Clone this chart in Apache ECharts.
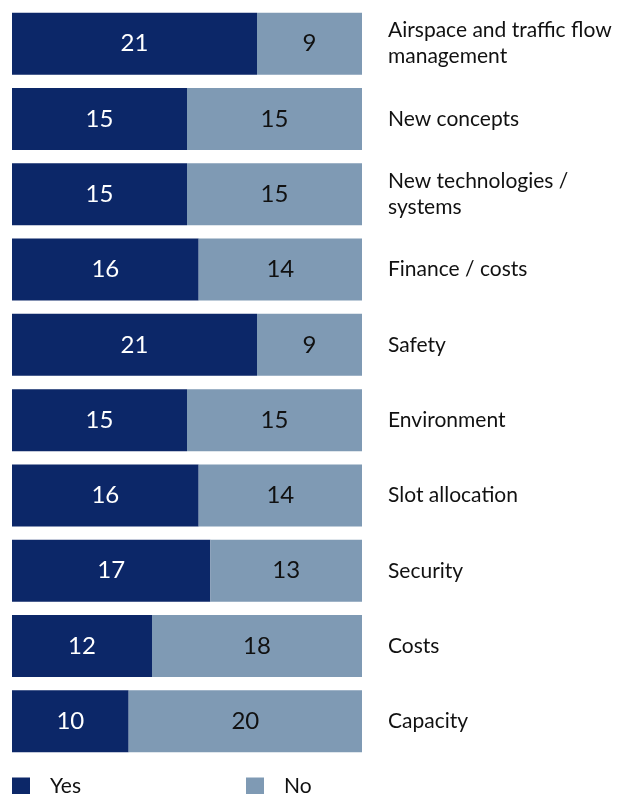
<!DOCTYPE html>
<html>
<head>
<meta charset="utf-8">
<script src="https://cdn.jsdelivr.net/npm/echarts@6/dist/echarts.min.js"></script>
<style>
  html, body { margin: 0; padding: 0; background: #fff; }
  #chart { width: 644px; height: 794px; }
</style>
</head>
<body>
<div id="chart"></div>
<script>
var categories = ['Airspace and traffic flow\nmanagement', 'New concepts', 'New technologies /\nsystems',
  'Finance / costs', 'Safety', 'Environment', 'Slot allocation', 'Security', 'Costs', 'Capacity'];
var yesValues = [21, 15, 15, 16, 21, 15, 16, 17, 12, 10];
var noValues = [9, 15, 15, 14, 9, 15, 14, 13, 18, 20];

var fontFam = 'Lato, "Open Sans", sans-serif';
var chart = echarts.init(document.getElementById('chart'));
var option = {
  animation: false,
  textStyle: { fontFamily: fontFam },
  grid: { left: 12, width: 350, top: 6, height: 753 },
  legend: [{
    data: ['Yes'], left: 12, top: 776, itemWidth: 18, itemHeight: 18, padding: 0,
    icon: 'rect', textStyle: { fontSize: 21, color: '#111', padding: [0, 0, 0, 15], fontFamily: fontFam }
  }, {
    data: ['No'], left: 246, top: 776, itemWidth: 18, itemHeight: 18, padding: 0,
    icon: 'rect', textStyle: { fontSize: 21, color: '#111', padding: [0, 0, 0, 15], fontFamily: fontFam }
  }],
  xAxis: { type: 'value', min: 0, max: 30, show: false },
  yAxis: {
    type: 'category', data: categories, inverse: true, position: 'right',
    axisLine: { show: false }, axisTick: { show: false },
    axisLabel: { margin: 26, align: 'left', fontSize: 21, color: '#111', lineHeight: 26, fontFamily: fontFam }
  },
  series: [{
    name: 'Yes', type: 'bar', stack: 'a', data: yesValues, barWidth: 62,
    itemStyle: { color: '#0c2768' },
    label: { show: true, position: 'inside', color: '#fff', fontSize: 24, fontFamily: fontFam }
  }, {
    name: 'No', type: 'bar', stack: 'a', data: noValues, barWidth: 62,
    itemStyle: { color: '#7f9ab4' },
    label: { show: true, position: 'inside', color: '#111', fontSize: 24, fontFamily: fontFam }
  }]
};
chart.setOption(option);
</script>
</body>
</html>
